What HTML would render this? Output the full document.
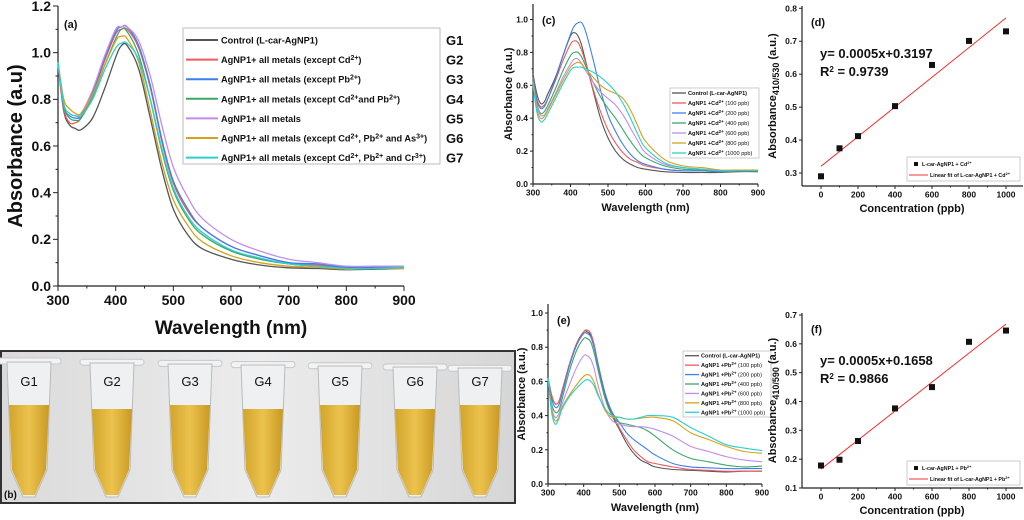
<!DOCTYPE html>
<html><head><meta charset="utf-8">
<style>
html,body{margin:0;padding:0;background:#fff;}
svg{display:block;font-family:"Liberation Sans",Arial,sans-serif;}
text{font-weight:bold;}
</style></head>
<body>
<svg id="fig" width="1024" height="520" viewBox="0 0 1024 520" xmlns="http://www.w3.org/2000/svg">
<defs>
<linearGradient id="bg" x1="0" y1="0" x2="1" y2="0">
<stop offset="0" stop-color="#dadada"/><stop offset="0.5" stop-color="#ececec"/><stop offset="1" stop-color="#d6d6d6"/>
</linearGradient>
<linearGradient id="liq" x1="0" y1="0" x2="1" y2="0">
<stop offset="0" stop-color="#d2a52a"/><stop offset="0.5" stop-color="#ecc24e"/><stop offset="1" stop-color="#c99a22"/>
</linearGradient>
</defs>
<g id="photo">
<rect x="1" y="351" width="514" height="152" fill="url(#bg)" stroke="#333" stroke-width="2"/>
</g>
<g id="layer"></g>
</svg>
<script>
// ---------- DATA ----------
const wlA = [300,310,320,330,340,360,380,400,410,420,440,460,480,500,525,550,600,650,700,750,800,850,900];
const aG1 = [0.95,0.75,0.69,0.675,0.67,0.72,0.84,0.98,1.03,1.03,0.93,0.72,0.50,0.33,0.22,0.16,0.115,0.09,0.078,0.075,0.07,0.072,0.075];
const aG2 = [0.95,0.76,0.70,0.70,0.72,0.82,0.96,1.08,1.10,1.10,1.02,0.85,0.62,0.44,0.32,0.25,0.17,0.13,0.10,0.09,0.08,0.08,0.08];
const aG3 = [0.95,0.77,0.73,0.72,0.73,0.83,0.97,1.09,1.11,1.11,1.03,0.86,0.63,0.45,0.33,0.25,0.17,0.13,0.10,0.095,0.08,0.08,0.08];
const aG4 = [0.95,0.77,0.72,0.71,0.72,0.81,0.94,1.06,1.10,1.09,0.99,0.80,0.58,0.41,0.29,0.22,0.15,0.115,0.095,0.085,0.075,0.075,0.08];
const aG5 = [0.95,0.78,0.74,0.73,0.74,0.84,0.98,1.10,1.11,1.11,1.05,0.90,0.69,0.51,0.38,0.29,0.20,0.15,0.115,0.10,0.085,0.085,0.085];
const aG6 = [0.96,0.80,0.76,0.74,0.74,0.82,0.94,1.05,1.07,1.06,0.96,0.75,0.53,0.37,0.26,0.19,0.13,0.10,0.085,0.08,0.072,0.075,0.075];
const aG7 = [0.96,0.78,0.74,0.73,0.73,0.80,0.92,1.02,1.04,1.04,0.97,0.80,0.59,0.42,0.30,0.23,0.155,0.12,0.095,0.085,0.075,0.075,0.08];
const wlC = [300,310,320,330,340,360,380,400,410,420,430,440,460,480,500,520,540,560,580,600,650,700,750,800,850,900];
const cCtrl = [0.67,0.55,0.49,0.50,0.55,0.65,0.78,0.90,0.92,0.90,0.84,0.75,0.57,0.40,0.28,0.20,0.15,0.12,0.10,0.09,0.075,0.07,0.07,0.07,0.075,0.075];
const c100 = [0.65,0.52,0.47,0.48,0.52,0.63,0.75,0.85,0.87,0.86,0.81,0.74,0.58,0.44,0.33,0.25,0.19,0.15,0.13,0.11,0.09,0.08,0.08,0.075,0.08,0.08];
const c200 = [0.65,0.51,0.46,0.47,0.52,0.64,0.78,0.91,0.96,0.98,0.98,0.93,0.76,0.57,0.42,0.32,0.24,0.18,0.14,0.12,0.09,0.08,0.08,0.075,0.08,0.08];
const c400 = [0.63,0.49,0.43,0.44,0.48,0.58,0.69,0.78,0.80,0.80,0.77,0.72,0.62,0.53,0.46,0.40,0.33,0.26,0.20,0.16,0.11,0.09,0.085,0.08,0.08,0.08];
const c600 = [0.62,0.48,0.42,0.42,0.46,0.55,0.65,0.73,0.76,0.76,0.73,0.69,0.62,0.56,0.52,0.48,0.42,0.34,0.26,0.19,0.12,0.10,0.09,0.08,0.08,0.08];
const c800 = [0.61,0.46,0.40,0.41,0.45,0.54,0.63,0.71,0.73,0.74,0.73,0.70,0.65,0.60,0.57,0.55,0.52,0.45,0.35,0.26,0.15,0.11,0.10,0.085,0.085,0.085];
const c1000 = [0.60,0.44,0.38,0.39,0.43,0.52,0.61,0.69,0.71,0.71,0.71,0.70,0.68,0.65,0.61,0.56,0.49,0.40,0.30,0.22,0.13,0.10,0.09,0.08,0.08,0.08];
const eCtrl = [0.62,0.52,0.47,0.48,0.55,0.70,0.82,0.89,0.89,0.87,0.80,0.70,0.52,0.40,0.32,0.24,0.18,0.14,0.12,0.10,0.085,0.08,0.075,0.07,0.075,0.075];
const e100 = [0.62,0.52,0.47,0.48,0.55,0.70,0.82,0.89,0.90,0.88,0.81,0.71,0.53,0.41,0.33,0.26,0.20,0.16,0.13,0.12,0.10,0.085,0.08,0.075,0.075,0.075];
const e200 = [0.62,0.50,0.45,0.46,0.53,0.69,0.81,0.88,0.88,0.86,0.79,0.70,0.53,0.42,0.36,0.30,0.26,0.23,0.20,0.17,0.12,0.10,0.095,0.09,0.09,0.09];
const e400 = [0.62,0.47,0.42,0.43,0.50,0.66,0.78,0.85,0.85,0.83,0.76,0.67,0.50,0.40,0.36,0.35,0.34,0.33,0.31,0.28,0.20,0.15,0.13,0.11,0.10,0.105];
const e600 = [0.62,0.45,0.39,0.41,0.47,0.58,0.68,0.75,0.75,0.73,0.67,0.58,0.44,0.37,0.35,0.34,0.335,0.335,0.33,0.32,0.28,0.22,0.19,0.16,0.14,0.13];
const e800 = [0.62,0.44,0.37,0.39,0.45,0.52,0.58,0.63,0.64,0.63,0.59,0.53,0.43,0.39,0.39,0.38,0.38,0.385,0.39,0.39,0.37,0.30,0.26,0.22,0.19,0.18];
const e1000 = [0.62,0.42,0.35,0.38,0.44,0.51,0.56,0.60,0.61,0.60,0.57,0.52,0.44,0.40,0.39,0.38,0.38,0.39,0.40,0.40,0.39,0.33,0.28,0.23,0.21,0.195];
const conc = [0,100,200,400,600,800,1000];
const dVals = [0.29,0.375,0.412,0.503,0.628,0.701,0.73];
const fVals = [0.178,0.198,0.263,0.376,0.45,0.607,0.646];
const wlTicks = [300,400,500,600,700,800,900];
const aYTicks = [0.0,0.2,0.4,0.6,0.8,1.0,1.2];
const cYTicks = [0.0,0.2,0.4,0.6,0.8,1.0];
const dYTicks = [0.3,0.4,0.5,0.6,0.7,0.8];
const fYTicks = [0.1,0.2,0.3,0.4,0.5,0.6,0.7];
const concTicks = [0,200,400,600,800,1000];
const aLegend = ["Control (L-car-AgNP1)","AgNP1+ all metals (except Cd<tspan baseline-shift='super' font-size='7'>2+</tspan>)","AgNP1+ all metals (except Pb<tspan baseline-shift='super' font-size='7'>2+</tspan>)","AgNP1+ all metals (except Cd<tspan baseline-shift='super' font-size='7'>2+</tspan>and Pb<tspan baseline-shift='super' font-size='7'>2+</tspan>)","AgNP1+ all metals","AgNP1+ all metals (except Cd<tspan baseline-shift='super' font-size='7'>2+</tspan>, Pb<tspan baseline-shift='super' font-size='7'>2+</tspan> and As<tspan baseline-shift='super' font-size='7'>3+</tspan>)","AgNP1+ all metals (except Cd<tspan baseline-shift='super' font-size='7'>2+</tspan>, Pb<tspan baseline-shift='super' font-size='7'>2+</tspan> and Cr<tspan baseline-shift='super' font-size='7'>3+</tspan>)"];
const groups = ["G1","G2","G3","G4","G5","G6","G7"];
const ppbLabels = ["100 ppb","200 ppb","400 ppb","600 ppb","800 ppb","1000 ppb"];
const colors = ["#555555","#f05a5a","#3d7ff0","#3aa86a","#c08ee8","#d4a21c","#2ad0d0"];

// ---------- helpers ----------
const NS="http://www.w3.org/2000/svg";
const layer=document.getElementById('layer');
function mk(tag,attrs,parent){const e=document.createElementNS(NS,tag);for(const k in attrs)e.setAttribute(k,attrs[k]);(parent||layer).appendChild(e);return e;}
function scale(d0,d1,r0,r1){return v=>r0+(v-d0)*(r1-r0)/(d1-d0);}
function smooth(pts){let d="M"+pts[0][0].toFixed(1)+","+pts[0][1].toFixed(1);
 for(let i=0;i<pts.length-1;i++){const p0=pts[i-1]||pts[i],p1=pts[i],p2=pts[i+1],p3=pts[i+2]||p2;
 const c1=[p1[0]+(p2[0]-p0[0])/6,p1[1]+(p2[1]-p0[1])/6],c2=[p2[0]-(p3[0]-p1[0])/6,p2[1]-(p3[1]-p1[1])/6];
 d+="C"+c1[0].toFixed(1)+","+c1[1].toFixed(1)+" "+c2[0].toFixed(1)+","+c2[1].toFixed(1)+" "+p2[0].toFixed(1)+","+p2[1].toFixed(1);}return d;}
function txt(x,y,s,size,anchor,parent,extra){const t=mk('text',Object.assign({x:x,y:y,'font-size':size,'text-anchor':anchor||'start',fill:'#111'},extra||{}),parent);t.innerHTML=s;return t;}

function axes(g,o){
 mk('line',{x1:o.x0,y1:o.y0,x2:o.x1,y2:o.y0,stroke:'#222','stroke-width':1.2},g);
 mk('line',{x1:o.x0,y1:o.y0,x2:o.x0,y2:o.y1,stroke:'#222','stroke-width':1.2},g);
 o.xticks.forEach(v=>{const x=o.xs(v);mk('line',{x1:x,y1:o.y0,x2:x,y2:o.y0+o.tl,stroke:'#222'},g);
   const t=txt(x,o.y0+o.tl+o.fs,String(v),o.fs,'middle',g);});
 (o.minorX||[]).forEach(v=>{const x=o.xs(v);mk('line',{x1:x,y1:o.y0,x2:x,y2:o.y0+o.tl/2,stroke:'#222'},g);});
 o.yticks.forEach(v=>{const y=o.ys(v);mk('line',{x1:o.x0-o.tl,y1:y,x2:o.x0,y2:y,stroke:'#222'},g);
   const t=txt(o.x0-o.tl-2,y+o.fs*0.35,v.toFixed(1),o.fs,'end',g);});
 (o.minorY||[]).forEach(v=>{const y=o.ys(v);mk('line',{x1:o.x0-o.tl/2,y1:y,x2:o.x0,y2:y,stroke:'#222'},g);});
}
function range(a,b,s){const r=[];for(let v=a;v<=b+1e-9;v+=s)r.push(+v.toFixed(3));return r;}

// ---------- Panel (a) ----------
const gA=mk('g',{});


const axA=scale(300,900,58,404), ayA=scale(0,1.2,286,6);
axes(gA,{x0:58,x1:404,y0:286,y1:6,xs:axA,ys:ayA,xticks:wlTicks,yticks:aYTicks,fs:14,tl:5,minorX:range(350,850,100),minorY:range(0.1,1.1,0.2)});
[aG1,aG2,aG3,aG4,aG5,aG6,aG7].forEach((s,i)=>{const p=mk('path',{d:smooth(s.map((v,j)=>[axA(wlA[j]),ayA(v)])),fill:'none',stroke:colors[i],'stroke-width':1.3},gA);
 });
let t=txt(22,146,"Absorbance (a.u)",20,'middle',gA,{transform:'rotate(-90 22 146)'});
t=txt(231,334,"Wavelength (nm)",19,'middle',gA);
t=txt(64,28,"(a)",11,'start',gA);
const legA=mk('g',{},gA);
mk('rect',{x:183,y:28,width:257,height:136,fill:'#fff',stroke:'#bbb'},legA);
aLegend.forEach((s,i)=>{const y=40+i*19.6;mk('line',{x1:186,y1:y,x2:218,y2:y,stroke:colors[i],'stroke-width':2},legA);
 const e=txt(221,y+3.5,s,9.2,'start',legA);
 const g=txt(446,y+5,groups[i],13,'start',gA);});

// ---------- Panel (b) photo ----------
const photo=document.getElementById('photo');
const tubeX=[29,112,190,263,340,415,480];
groups.forEach((g,i)=>{const cx=tubeX[i];const tg=mk('g',{},photo);
 
 mk('rect',{x:cx-32,y:358+i*1.2,width:64,height:6,rx:3,fill:'#f2f3f4',stroke:'#c8c8c8'},tg);
 mk('path',{d:`M${cx-22},${362+i}L${cx+22},${362+i}L${cx+18},${470}L${cx+6},${497}L${cx-6},${497}L${cx-18},${470}Z`,fill:'#eef0f1',stroke:'#bbb'},tg);
 mk('path',{d:`M${cx-20},${405+(i%2)*4}L${cx+20},${405+(i%2)*4}L${cx+17},${470}L${cx+6},${495}L${cx-6},${495}L${cx-17},${470}Z`,fill:'url(#liq)'},tg);
 const l=txt(cx,386,g,13,'middle',photo);l.style.fontWeight='normal';});
t=txt(4,498,"(b)",10,'start',photo);

// ---------- spectral panel helper ----------
function spectral(name,x0,x1,y0,y1top,yTop,series,yt,label,legBox,ion,ytitleX){
 const g=mk('g',{});
 const xs=scale(300,900,x0,x1), ys=scale(0,1.0,y0,y1top);
 axes(g,{x0:x0,x1:x1,y0:y0,y1:yTop,xs:xs,ys:ys,xticks:wlTicks,yticks:yt,fs:8.5,tl:3,minorX:range(350,850,100),minorY:range(0.1,0.9,0.2)});
 series.forEach((s,i)=>{const p=mk('path',{d:smooth(s.map((v,j)=>[xs(wlC[j]),ys(v)])),fill:'none',stroke:colors[i],'stroke-width':1.1},g);
  });
 let t=txt((x0+x1)/2,y0+27,"Wavelength (nm)",11,'middle',g);
 t=txt(ytitleX,(y0+yTop)/2,"Absorbance (a.u.)",11,'middle',g,{transform:`rotate(-90 ${ytitleX} ${(y0+yTop)/2})`});
 t=txt(x0+9,yTop+20,label,11,'start',g);
 const lg=mk('g',{},g);
 mk('rect',{x:legBox[0],y:legBox[1],width:legBox[2],height:legBox[3],fill:'#fff',stroke:'#aaa','stroke-width':0.6},lg);
 const step=legBox[3]/7;
 for(let i=0;i<7;i++){const y=legBox[1]+step*(i+0.5);mk('line',{x1:legBox[0]+2,y1:y,x2:legBox[0]+16,y2:y,stroke:colors[i],'stroke-width':1.3},lg);
  const s=i==0?"Control (L-car-AgNP1)":`AgNP1 +${ion}<tspan baseline-shift='super' font-size='4.5'>2+</tspan> <tspan font-weight='normal'>(${ppbLabels[i-1]})</tspan>`;
  const e=txt(legBox[0]+18,y+2,s,5.6,'start',lg);}
}
spectral('panel-c-chart',533,758,184,19.5,4,[cCtrl,c100,c200,c400,c600,c800,c1000],cYTicks,"(c)",[670,88,89,70],"Cd",512);
spectral('panel-e-chart',548,762,484,313,304,[eCtrl,e100,e200,e400,e600,e800,e1000],cYTicks,"(e)",[683,351,88,66],"Pb",525);

// ---------- calibration helper ----------
function calib(name,vals,ymin,ymax,yPx0,yPx1,yAxisBottom,yAxisTop,yt,label,eq,r2,ratio,ion,legY){
 const g=mk('g',{});
 const xs=scale(0,1000,821,1006), ys=scale(ymin,ymax,yPx0,yPx1);
 axes(g,{x0:802,x1:1023,y0:yAxisBottom,y1:yAxisTop,xs:xs,ys:ys,xticks:concTicks,yticks:yt,fs:8.5,tl:3,minorX:range(100,900,200)});
 const n=conc.length,mx=conc.reduce((a,b)=>a+b)/n,my=vals.reduce((a,b)=>a+b)/n;
 let sxy=0,sxx=0;conc.forEach((x,i)=>{sxy+=(x-mx)*(vals[i]-my);sxx+=(x-mx)*(x-mx);});
 const b=sxy/sxx,a=my-b*mx;
 const fl=mk('line',{x1:xs(0),y1:ys(a),x2:xs(1000),y2:ys(a+b*1000),stroke:'#f03030','stroke-width':1},g);
 
 conc.forEach((c,i)=>{const r=mk('rect',{x:xs(c)-3,y:ys(vals[i])-3,width:6,height:6,fill:'#111'},g);
  });
 let t=txt(912,yAxisBottom+26,"Concentration (ppb)",11,'middle',g);
 const cy=(yAxisBottom+yAxisTop)/2;
 t=txt(776,cy,`Absorbance<tspan font-size='9' dy='3'>${ratio}</tspan><tspan dy='-3'> (a.u.)</tspan>`,11,'middle',g,{transform:`rotate(-90 776 ${cy})`});
 t=txt(811,yAxisTop+20,label,11,'start',g);
 t=txt(820,yAxisTop+52,eq,13,'start',g);
 t=txt(820,yAxisTop+70,"R<tspan baseline-shift='super' font-size='8'>2</tspan>  = "+r2,13,'start',g);
 const lg=mk('g',{},g);
 mk('rect',{x:907,y:legY,width:113,height:24,fill:'#fff',stroke:'#aaa','stroke-width':0.6},lg);
 mk('rect',{x:914,y:legY+5,width:4,height:4,fill:'#111'},lg);
 txt(922,legY+9,`L-car-AgNP1 + ${ion}<tspan baseline-shift='super' font-size='4'>2+</tspan>`,5.3,'start',lg,{'font-weight':'normal'});
 mk('line',{x1:909,y1:legY+18,x2:928,y2:legY+18,stroke:'#f03030'},lg);
 txt(930,legY+20,`Linear fit of L-car-AgNP1 + ${ion}<tspan baseline-shift='super' font-size='4'>2+</tspan>`,5.3,'start',lg,{'font-weight':'normal'});
}
calib('panel-d-chart',dVals,0.3,0.8,173,8.3,186,6,dYTicks,"(d)","y= 0.0005x+0.3197","0.9739","410/530","Cd",157);
calib('panel-f-chart',fVals,0.1,0.7,488,315,488,313,fYTicks,"(f)","y= 0.0005x+0.1658","0.9866","410/590","Pb",461);
</script>
</body></html>
